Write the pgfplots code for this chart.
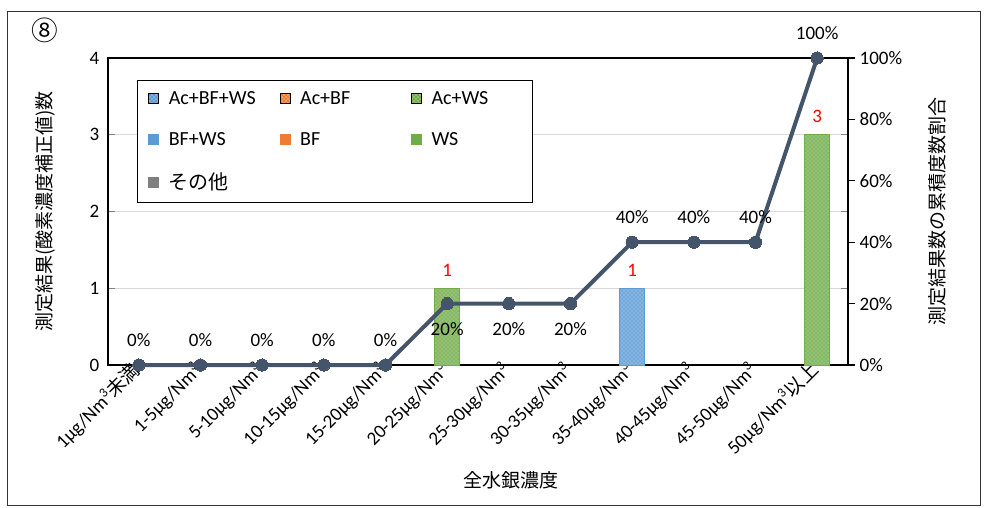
\documentclass[border=0pt]{standalone}
\usepackage{fontspec}
\setmainfont{Carlito}
\newfontfamily\jp{Noto Sans CJK JP}
\usepackage{pgfplots}
\pgfplotsset{compat=1.18}
\usetikzlibrary{patterns}
\definecolor{cblue}{HTML}{5B9BD5}
\definecolor{corange}{HTML}{ED7D31}
\definecolor{cgreen}{HTML}{70AD47}
\definecolor{cgray}{HTML}{7F7F7F}
\definecolor{cline}{HTML}{44546A}
\definecolor{cgrid}{HTML}{D9D9D9}
\newcommand\tf{\fontsize{14.25}{17}\selectfont}
\newcommand\lf{\fontsize{15}{18}\selectfont}
\newcommand\nm{Nm\textsuperscript{3}}
\begin{document}
\begin{tikzpicture}
\useasboundingbox (-81pt,-106.5pt) rectangle (657.75pt,273.75pt);
\pgfplotsset{/pgf/number format/assume math mode=true}
\begin{axis}[
  at={(0,0)}, anchor=south west, scale only axis,
  width=555pt, height=230.25pt,
  xmin=-0.5, xmax=11.5, ymin=0, ymax=4,
  xtick={0,...,11},
  xticklabels={{1µg/\nm{\jp 未満}},{1-5µg/\nm},{5-10µg/\nm},{10-15µg/\nm},{15-20µg/\nm},{20-25µg/\nm},{25-30µg/\nm},{30-35µg/\nm},{35-40µg/\nm},{40-45µg/\nm},{45-50µg/\nm},{50µg/\nm{\jp 以上}}},
  xtick style={draw=none},
  extra x ticks={0.5,1.5,...,10.5}, extra x tick labels={},
  extra x tick style={draw=black, line width=0.8pt, tick align=inside, major tick length=5.25pt},
  ytick={0,1,2,3,4},
  ytick style={draw=gray, line width=0.8pt},
  tick align=inside, major tick length=5.25pt,
  ymajorgrids, grid style={cgrid, line width=0.8pt},
  axis line style={line width=1.3pt},
  xticklabel style={rotate=45, anchor=east, font=\tf, inner sep=2pt},
  yticklabel style={font=\tf, xshift=-3pt},
  every axis y label/.style={at={(axis description cs:-0.0851,0.5)}, rotate=90, anchor=center, font=\jp\tf},
  ylabel={測定結果(酸素濃度補正値)数},
  every axis x label/.style={at={(axis description cs:0.5446,0)}, anchor=north, yshift=-80pt, inner sep=0pt, font=\jp\tf},
  xlabel={全水銀濃度},
  legend columns=3, legend cell align=left,
  legend style={at={(0.0392,0.928)}, anchor=north west, draw=black, line width=0.75pt, fill=white,
    inner xsep=8pt, inner ysep=6pt, row sep=15.5pt, font=\lf,
    /tikz/every odd column/.append style={column sep=5.25pt},
    /tikz/every even column/.append style={column sep=15pt}},
]
\addplot[ybar, bar shift=0pt, bar width=18.75pt, fill=cgreen!85!white, draw=cgreen, line width=0.5pt,
  postaction={pattern=crosshatch dots, pattern color=white!60!cgreen}, forget plot]
  coordinates {(5,1) (11,3)};
\addplot[ybar, bar shift=0pt, bar width=18.75pt, fill=cblue!85!white, draw=cblue, line width=0.5pt,
  postaction={pattern=crosshatch dots, pattern color=white!60!cblue}, forget plot]
  coordinates {(8,1)};
\addplot[draw=none, mark=none, forget plot, point meta=y, nodes near coords,
  nodes near coords style={red, font=\tf, anchor=center, yshift=13.5pt}]
  coordinates {(5,1) (8,1) (11,3)};
\addlegendimage{legend image code/.code={\fill[cblue] (0pt,-3.75pt) rectangle (7.5pt,3.75pt); \fill[pattern=crosshatch dots, pattern color=white] (0pt,-3.75pt) rectangle (7.5pt,3.75pt);}}
\addlegendentry{\makebox[66pt][l]{Ac+BF+WS}}
\addlegendimage{legend image code/.code={\fill[corange] (0pt,-3.75pt) rectangle (7.5pt,3.75pt); \fill[pattern=crosshatch dots, pattern color=white] (0pt,-3.75pt) rectangle (7.5pt,3.75pt);}}
\addlegendentry{\makebox[66pt][l]{Ac+BF}}
\addlegendimage{legend image code/.code={\fill[cgreen] (0pt,-3.75pt) rectangle (7.5pt,3.75pt); \fill[pattern=crosshatch dots, pattern color=white] (0pt,-3.75pt) rectangle (7.5pt,3.75pt);}}
\addlegendentry{\makebox[66pt][l]{Ac+WS}}
\addlegendimage{legend image code/.code={\fill[cblue] (0pt,-3.75pt) rectangle (7.5pt,3.75pt);}}
\addlegendentry{\makebox[66pt][l]{BF+WS}}
\addlegendimage{legend image code/.code={\fill[corange] (0pt,-3.75pt) rectangle (7.5pt,3.75pt);}}
\addlegendentry{\makebox[66pt][l]{BF}}
\addlegendimage{legend image code/.code={\fill[cgreen] (0pt,-3.75pt) rectangle (7.5pt,3.75pt);}}
\addlegendentry{\makebox[66pt][l]{WS}}
\addlegendimage{legend image code/.code={\fill[cgray] (0pt,-3.75pt) rectangle (7.5pt,3.75pt);}}
\addlegendentry{\makebox[66pt][l]{\jp その他}}
\end{axis}
\begin{axis}[
  at={(0,0)}, anchor=south west, scale only axis,
  width=555pt, height=230.25pt,
  xmin=-0.5, xmax=11.5, ymin=0, ymax=100,
  axis x line=none, axis y line*=right,
  ytick={0,20,...,100},
  yticklabel={\pgfmathprintnumber{\tick}\%},
  yticklabel style={font=\tf},
  tick align=outside, major tick length=5.25pt,
  ytick style={draw=black, line width=0.8pt},
  axis line style={line width=1.3pt},
  every axis y label/.style={at={(axis description cs:1.1203,0.5)}, rotate=90, anchor=center, font=\jp\tf},
  ylabel={測定結果数の累積度数割合},
  clip=false,
]
\addplot[color=cline, line width=3pt, mark=*, mark size=4.6pt, mark options={fill=cline, draw=cline, line width=0pt}]
  coordinates {(0,0) (1,0) (2,0) (3,0) (4,0) (5,20) (6,20) (7,20) (8,40) (9,40) (10,40) (11,100)};
\addplot[draw=none, mark=none, point meta=y,
  nodes near coords={\pgfmathprintnumber{\pgfplotspointmeta}\%},
  nodes near coords style={black, font=\tf, anchor=center, yshift=19pt}]
  coordinates {(0,0) (1,0) (2,0) (3,0) (4,0) (8,40) (9,40) (10,40) (11,100)};
\addplot[draw=none, mark=none, point meta=y,
  nodes near coords={\pgfmathprintnumber{\pgfplotspointmeta}\%},
  nodes near coords style={black, font=\tf, anchor=center, yshift=-19pt}]
  coordinates {(5,20) (6,20) (7,20)};
\end{axis}
\draw[black!80, line width=0.75pt] (-75pt,-105pt) rectangle (654pt,264.75pt);
\node[font=\jp\fontsize{20}{22}\selectfont, anchor=center] at (-47.25pt,251.25pt) {⑧};
\end{tikzpicture}
\end{document}
